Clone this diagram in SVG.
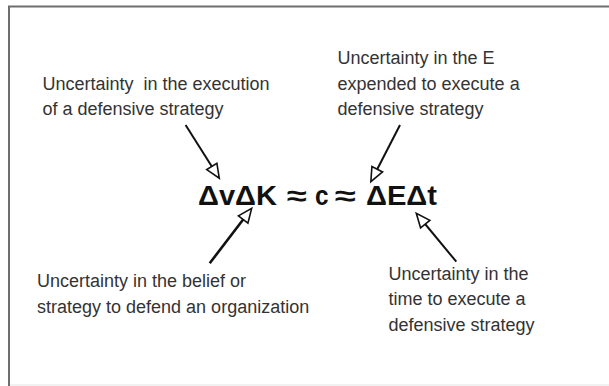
<svg xmlns="http://www.w3.org/2000/svg" width="609" height="386" viewBox="0 0 609 386">
<style>
  .lbl { font-family: "Liberation Sans", Arial, sans-serif; font-size: 18px; fill: #333; }
  .eq { font-family: "Liberation Sans", Arial, sans-serif; font-size: 27px; font-weight: bold; fill: #111; }
  .conn { stroke: #111; stroke-width: 2; fill: none; marker-end: url(#open); }
</style>
<defs>
  <marker id="open" viewBox="0 0 16 14" refX="7" refY="7" markerWidth="16" markerHeight="14" markerUnits="userSpaceOnUse" orient="auto" overflow="visible">
    <path d="M1,1 L15,7 L1,13 Z" fill="#fff" stroke="#111" stroke-width="1.6" stroke-linejoin="miter"/>
  </marker>
</defs>
<rect width="609" height="386" fill="#fff"/>
<g id="frame">
  <path d="M9,386 V6.5 H609" fill="none" stroke="#6e6e6e" stroke-width="2"/>
  <line x1="10" y1="385" x2="609" y2="385" stroke="#e4e4e4" stroke-width="1"/>
</g>
<g id="equation">
  <text class="eq" x="198" y="205" textLength="79" lengthAdjust="spacingAndGlyphs">ΔvΔK</text>
  <text class="eq" x="287" y="205" textLength="20" lengthAdjust="spacingAndGlyphs">≈</text>
  <text class="eq" x="315" y="205" textLength="13.5" lengthAdjust="spacingAndGlyphs">c</text>
  <text class="eq" x="335" y="205" textLength="21" lengthAdjust="spacingAndGlyphs">≈</text>
  <text class="eq" x="366" y="205" textLength="71" lengthAdjust="spacingAndGlyphs">ΔEΔt</text>
</g>
<g id="label-execution">
  <text class="lbl" x="42.5" y="89.5" xml:space="preserve">Uncertainty  in the execution</text>
  <text class="lbl" x="42.5" y="115">of a defensive strategy</text>
</g>
<g id="label-energy">
  <text class="lbl" x="337.5" y="64">Uncertainty in the E</text>
  <text class="lbl" x="337.5" y="89.5">expended to execute a</text>
  <text class="lbl" x="337.5" y="115">defensive strategy</text>
</g>
<g id="label-belief">
  <text class="lbl" x="37" y="287">Uncertainty in the belief or</text>
  <text class="lbl" x="37" y="312.5">strategy to defend an organization</text>
</g>
<g id="label-time">
  <text class="lbl" x="388.5" y="279.5">Uncertainty in the</text>
  <text class="lbl" x="388.5" y="305">time to execute a</text>
  <text class="lbl" x="388.5" y="330.5">defensive strategy</text>
</g>
<g id="connectors">
  <line class="conn" x1="185.6" y1="125" x2="215" y2="171.5"/>
  <line class="conn" x1="400" y1="125" x2="374.5" y2="174.5"/>
  <line class="conn" x1="209.7" y1="263.3" x2="246.8" y2="214.7" style="stroke-width:2.6"/>
  <line class="conn" x1="456.3" y1="261.7" x2="421.4" y2="219.5"/>
</g>
</svg>
